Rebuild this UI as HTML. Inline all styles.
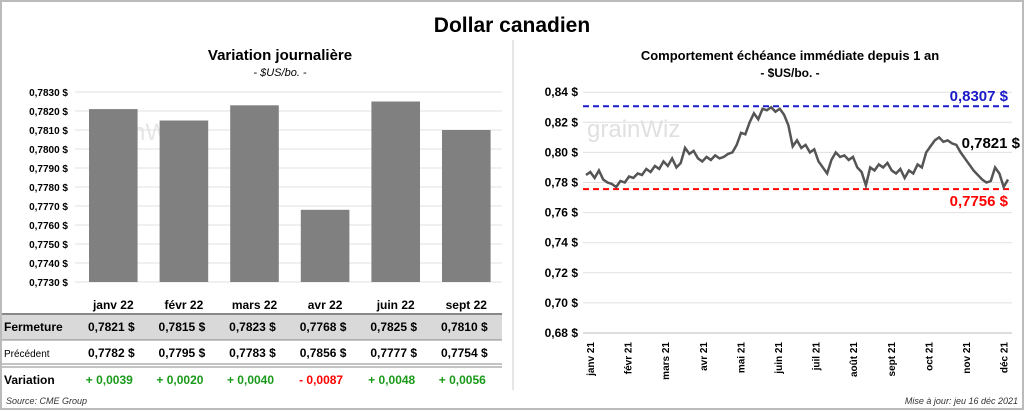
<!DOCTYPE html>
<html><head><meta charset="utf-8"><style>
body{margin:0;background:#fff}
svg text{font-family:"Liberation Sans",sans-serif}
</style></head><body>
<svg id="s" width="1024" height="410" xmlns="http://www.w3.org/2000/svg">
<rect x="1" y="1" width="1022" height="408" fill="#fff" stroke="#bbb" stroke-width="2"/>
<line x1="513" y1="40" x2="513" y2="390" stroke="#ccc"/>
<text x="512" y="32" font-size="21" font-weight="bold" text-anchor="middle">Dollar canadien</text>
<text x="280" y="60" font-size="15" font-weight="bold" text-anchor="middle">Variation  journalière</text>
<text x="280" y="76" font-size="11" font-style="italic" text-anchor="middle">- $US/bo. -</text>
<text x="790" y="60" font-size="13" font-weight="bold" text-anchor="middle">Comportement échéance immédiate depuis 1 an</text>
<text x="790" y="77" font-size="12" font-weight="bold" text-anchor="middle">- $US/bo. -</text>
<g id="left"></g><g id="right"></g><g id="table"></g>
<text x="6" y="404" font-size="9" font-style="italic" fill="#333">Source: CME Group</text>
<text x="1018" y="404" font-size="9" font-style="italic" fill="#333" text-anchor="end">Mise à jour: jeu 16 déc 2021</text>
</svg>
<script>
const cats=["janv 22","févr 22","mars 22","avr 22","juin 22","sept 22"];
const closeVals=[0.7821,0.7815,0.7823,0.7768,0.7825,0.7810];
const prevVals=[0.7782,0.7795,0.7783,0.7856,0.7777,0.7754];
const varVals=[0.0039,0.0020,0.0040,-0.0087,0.0048,0.0056];
const leftTicks=[0.7730,0.7740,0.7750,0.7760,0.7770,0.7780,0.7790,0.7800,0.7810,0.7820,0.7830];
const rightTicks=[0.68,0.70,0.72,0.74,0.76,0.78,0.80,0.82,0.84];
const months=["janv 21","févr 21","mars 21","avr 21","mai 21","juin 21","juil 21","août 21","sept 21","oct 21","nov 21","déc 21"];
const series=[0.785,0.787,0.783,0.788,0.782,0.780,0.779,0.777,0.781,0.780,0.784,0.783,0.786,0.785,0.789,0.787,0.791,0.789,0.794,0.791,0.796,0.790,0.793,0.803,0.799,0.801,0.796,0.794,0.797,0.795,0.798,0.796,0.797,0.799,0.800,0.805,0.813,0.812,0.820,0.826,0.822,0.829,0.828,0.830,0.827,0.829,0.825,0.818,0.804,0.808,0.803,0.805,0.800,0.802,0.794,0.790,0.786,0.795,0.800,0.797,0.798,0.795,0.797,0.790,0.787,0.778,0.790,0.788,0.792,0.790,0.793,0.788,0.786,0.789,0.783,0.788,0.786,0.792,0.790,0.800,0.804,0.808,0.810,0.807,0.808,0.806,0.805,0.800,0.796,0.792,0.788,0.785,0.782,0.780,0.781,0.790,0.786,0.777,0.782];
const highVal=0.8307, lowVal=0.7756, lastVal=0.7821;
const NS="http://www.w3.org/2000/svg";
function mk(p,t,a,txt){const e=document.createElementNS(NS,t);for(const k in a)e.setAttribute(k,a[k]);if(txt!==undefined)e.textContent=txt;p.appendChild(e);return e;}
const fmt4=v=>v.toFixed(4).replace('.',',');
const L=document.getElementById('left');
const ly=v=>282-(v-0.7730)/0.0010*19;
const bandX0=78,bandW=70.6;
const lx=i=>bandX0+bandW*i;
const wm=mk(L,'text',{x:92,y:140,'font-size':24,fill:'#e6e6e6'},'grainWiz');

leftTicks.forEach(t=>{
 const g=mk(L,'line',{x1:75,x2:502,y1:ly(t),y2:ly(t),stroke:'#e0e0e0'});
 
 const tx=mk(L,'text',{x:68,y:ly(t)+4,'font-size':10,'font-weight':'bold','text-anchor':'end'},fmt4(t)+' $');
 
});
closeVals.forEach((v,i)=>{
 const r=mk(L,'rect',{x:lx(i)+11,y:ly(v),width:bandW-22,height:282-ly(v),fill:'#808080'});
 
});
const T=document.getElementById('table');
mk(T,'rect',{x:2,y:314,width:500,height:26,fill:'#d9d9d9'});
mk(T,'line',{x1:2,x2:502,y1:314,y2:314,stroke:'#888','stroke-width':2});
mk(T,'line',{x1:2,x2:502,y1:340,y2:340,stroke:'#888'});
mk(T,'line',{x1:2,x2:502,y1:364,y2:364,stroke:'#888'});
mk(T,'line',{x1:2,x2:502,y1:367,y2:367,stroke:'#888'});
const lab=[["Fermeture",331,12,'bold'],["Précédent",357,10,'normal'],["Variation",384,12,'bold']];
lab.forEach(l=>{const t=mk(T,'text',{x:4,y:l[1],'font-size':l[2],'font-weight':l[3]},l[0]);});
cats.forEach((c,i)=>{
 const cx=lx(i)+bandW/2;
 let t=mk(T,'text',{x:cx,y:309,'font-size':12,'font-weight':'bold','text-anchor':'middle'},c);
 
 t=mk(T,'text',{x:cx-2,y:331,'font-size':12,'font-weight':'bold','text-anchor':'middle'},fmt4(closeVals[i])+'  $');
 
 t=mk(T,'text',{x:cx-2,y:357,'font-size':12,'font-weight':'bold','text-anchor':'middle'},fmt4(prevVals[i])+'  $');
 
 const d=varVals[i];
 t=mk(T,'text',{x:cx-4,y:384,'font-size':12,'font-weight':'bold','text-anchor':'middle',fill:d<0?'#f00':'#1a9a1a'},(d<0?'- ':'+ ')+fmt4(Math.abs(d)));
 
});
const R=document.getElementById('right');
const ry=v=>333-(v-0.68)/0.02*30.1;
const x0=586,x1=1008;
const rx=i=>x0+(x1-x0)*i/(series.length-1);
const wm2=mk(R,'text',{x:587,y:137,'font-size':24,fill:'#e0e0e0'},'grainWiz');

rightTicks.forEach(t=>{
 const g=mk(R,'line',{x1:583,x2:1012,y1:ry(t),y2:ry(t),stroke:'#e0e0e0'});
 
 const tx=mk(R,'text',{x:578,y:ry(t)+4,'font-size':12,'font-weight':'bold','text-anchor':'end'},t.toFixed(2).replace('.',',')+' $');
 
});
const ax=mk(R,'line',{x1:583,x2:1012,y1:333,y2:333,stroke:'#bbb'});

months.forEach((m,i)=>{
 const x=590+i*37.6;
 const t=mk(R,'text',{transform:`translate(${x+4},342) rotate(-90)`,'font-size':10,'font-weight':'bold','text-anchor':'end'},m);
 
});
let hl=mk(R,'line',{x1:583,x2:1012,y1:ry(highVal),y2:ry(highVal),stroke:'#1a1ac8','stroke-width':2,'stroke-dasharray':'6,4'});

hl=mk(R,'line',{x1:583,x2:1012,y1:ry(lowVal),y2:ry(lowVal),stroke:'#f00','stroke-width':2,'stroke-dasharray':'6,4'});

const pl=mk(R,'polyline',{points:series.map((v,i)=>rx(i)+','+ry(v)).join(' '),fill:'none',stroke:'#555','stroke-width':2.5});

let t=mk(R,'text',{x:1008,y:ry(highVal)-5,'font-size':15,'font-weight':'bold',fill:'#1a1ac8','text-anchor':'end'},fmt4(highVal)+' $');

t=mk(R,'text',{x:1008,y:ry(lowVal)+17,'font-size':15,'font-weight':'bold',fill:'#f00','text-anchor':'end'},fmt4(lowVal)+' $');

t=mk(R,'text',{x:1020,y:148,'font-size':15,'font-weight':'bold','text-anchor':'end'},fmt4(lastVal)+' $');

</script>
</body></html>
